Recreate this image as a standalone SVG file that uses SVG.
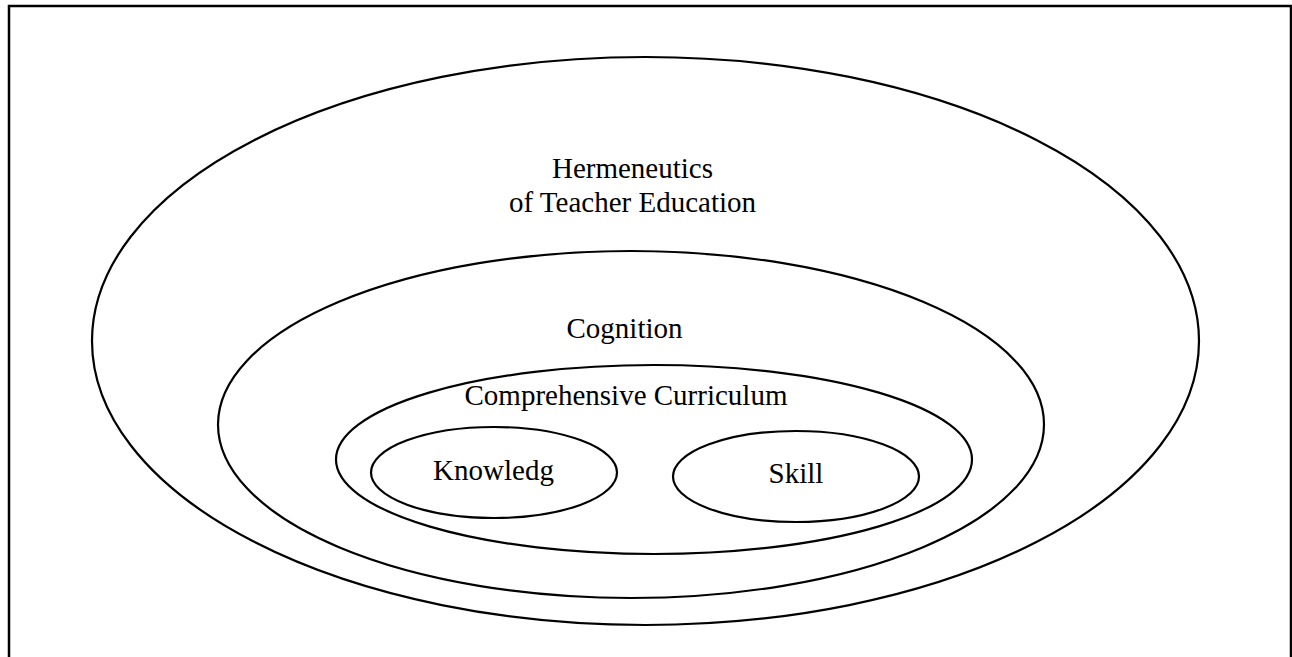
<svg xmlns="http://www.w3.org/2000/svg" width="1292" height="657" viewBox="0 0 1292 657">
<style>
.frame{fill:none;stroke:#000;stroke-width:2.5}
.ell{fill:none;stroke:#000;stroke-width:2.2}
.lbl{font-family:"Liberation Serif","Times New Roman",serif;font-size:29px;fill:#000;text-anchor:middle}
</style>
<rect width="1292" height="657" fill="#fff"/>
<rect class="frame" x="9" y="6" width="1282" height="670"/>
<g id="hermeneutics">
<ellipse class="ell" cx="645.5" cy="341" rx="553.5" ry="284"/>
<text class="lbl" x="632.5" y="178">Hermeneutics</text>
<text class="lbl" x="632.5" y="212">of Teacher Education</text>
</g>
<g id="cognition">
<ellipse class="ell" cx="631" cy="424.5" rx="413" ry="173.5"/>
<text class="lbl" x="624.5" y="338">Cognition</text>
</g>
<g id="curriculum">
<ellipse class="ell" cx="654" cy="459.5" rx="318" ry="94.5"/>
<text class="lbl" x="626" y="405">Comprehensive Curriculum</text>
</g>
<g id="knowledg">
<ellipse class="ell" cx="494" cy="472.5" rx="123" ry="45.5"/>
<text class="lbl" x="493.5" y="480">Knowledg</text>
</g>
<g id="skill">
<ellipse class="ell" cx="796" cy="476.5" rx="123" ry="45.5"/>
<text class="lbl" x="796" y="483">Skill</text>
</g>
<g id="connectors"></g>
</svg>
